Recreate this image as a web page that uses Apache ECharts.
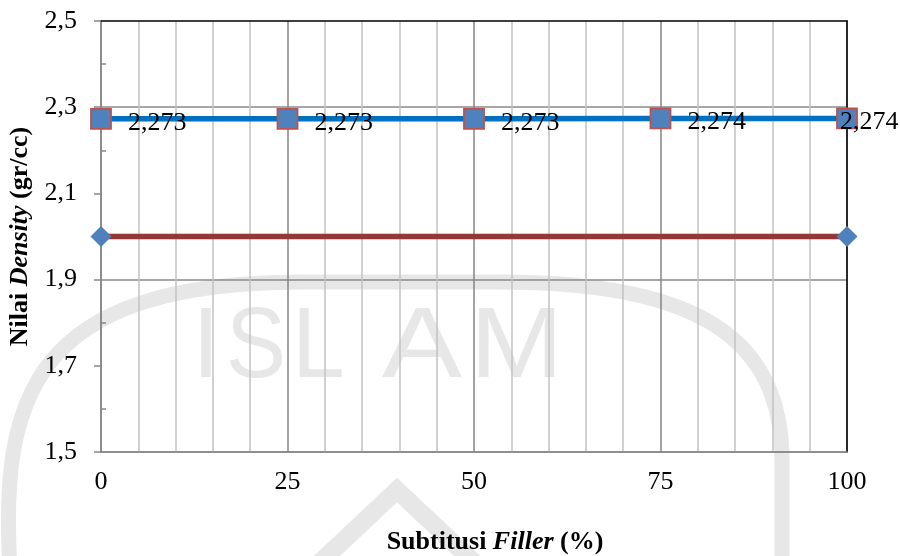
<!DOCTYPE html>
<html>
<head>
<meta charset="utf-8">
<script src="https://cdn.jsdelivr.net/npm/echarts@6/dist/echarts.min.js"></script>
<style>
  html, body { margin: 0; padding: 0; background: #ffffff; }
  #chart { width: 900px; height: 556px; }
</style>
</head>
<body>
<div id="chart"></div>
<script>
// Filler substitution levels (%) and measured density values (gr/cc)
const fillerPct = [0, 25, 50, 75, 100];
const densityValues = [2.273, 2.273, 2.273, 2.274, 2.274];

// Specification limit line (gr/cc) drawn between the two ends of the axis
const limitX = [0, 100];
const limitValues = [2.0, 2.0];

// Y-axis labelled ticks and the unlabelled inner ticks between them
const yMajorTicks = [1.5, 1.7, 1.9, 2.1, 2.3, 2.5];
const yMinorTicks = [1.6, 1.8, 2.0, 2.2, 2.4];

const SERIF = '"Liberation Serif", "Times New Roman", serif';
const comma = (v, d) => v.toFixed(d).replace('.', ',');

const chart = echarts.init(document.getElementById('chart'), null, { renderer: 'canvas' });

// Faint university-logo watermark behind the plot
const wmColor = '#e7e7e7';
const wmFont = '100px "Liberation Sans", Arial, sans-serif';
const wmLetters = [
  { t: 'I', x: 192, sx: 1 },
  { t: 'S', x: 226, sx: 0.9 },
  { t: 'L', x: 292, sx: 0.95 },
  { t: 'A', x: 382, sx: 1.2 },
  { t: 'M', x: 470, sx: 1.12 }
];
const wmStroke = { fill: null, stroke: wmColor, lineWidth: 15 };
const watermark = [
  {
    type: 'bezierCurve', z: -10, silent: true,
    shape: { x1: 10, y1: 570, cpx1: 0, cpy1: 400, cpx2: 30, cpy2: 283, x2: 300, y2: 282 },
    style: wmStroke
  },
  {
    type: 'bezierCurve', z: -10, silent: true,
    shape: { x1: 500, y1: 282, cpx1: 700, cpy1: 282, cpx2: 782, cpy2: 340, x2: 782, y2: 460 },
    style: wmStroke
  },
  {
    type: 'polyline', z: -10, silent: true,
    shape: { points: [[299, 282], [501, 282]] },
    style: wmStroke
  },
  {
    type: 'polyline', z: -10, silent: true,
    shape: { points: [[782, 459], [782, 570]] },
    style: wmStroke
  },
  {
    type: 'polyline', z: -10, silent: true,
    shape: { points: [[312, 570], [397, 490], [482, 570]] },
    style: { fill: null, stroke: wmColor, lineWidth: 18 }
  }
].concat(wmLetters.map(l => ({
  type: 'text', z: -10, silent: true,
  x: l.x, y: 299, scaleX: l.sx,
  style: { text: l.t, fill: wmColor, font: wmFont }
})));

const titleRich = {
  b: { fontFamily: SERIF, fontWeight: 'bold', fontSize: 26, color: '#000' },
  bi: { fontFamily: SERIF, fontWeight: 'bold', fontStyle: 'italic', fontSize: 26, color: '#000' }
};

const option = {
  backgroundColor: '#ffffff',
  animation: false,
  graphic: { elements: watermark },
  grid: {
    left: 101, right: 53, top: 21, bottom: 104,
    containLabel: false, outerBoundsMode: 'none'
  },
  xAxis: [
    {
      type: 'value', position: 'bottom',
      min: 0, max: 100, interval: 25,
      name: '{b|Subtitusi }{bi|Filler}{b| (%)}',
      nameLocation: 'middle', nameGap: 77,
      // title sits a little right of the plot centre
      nameTextStyle: { rich: titleRich, padding: [0, 0, 0, 42] },
      axisLine: { show: true, onZero: false, lineStyle: { color: '#868686', width: 1.5 } },
      axisTick: { show: false },
      minorTick: { show: false, splitNumber: 5 },
      axisLabel: { fontFamily: SERIF, fontSize: 26, color: '#000', margin: 17 },
      splitLine: { show: true, lineStyle: { color: '#848484', width: 1.5 } },
      minorSplitLine: { show: true, lineStyle: { color: '#c2c2c2', width: 1.5 } }
    },
    {
      type: 'value', position: 'top',
      min: 0, max: 100, interval: 25,
      axisLine: { show: true, onZero: false, lineStyle: { color: '#000', width: 1.5 } },
      axisTick: { show: false }, axisLabel: { show: false }, splitLine: { show: false }
    }
  ],
  yAxis: [
    {
      type: 'value', position: 'left',
      min: 1.5, max: 2.5, interval: 0.1,
      name: '{b|Nilai }{bi|Density}{b| (gr/cc)}',
      nameLocation: 'middle', nameGap: 65, nameRotate: 90,
      nameTextStyle: { rich: titleRich },
      axisLine: { show: true, onZero: false, lineStyle: { color: '#868686', width: 1.5 } },
      axisTick: {
        show: true, inside: false, length: 7, customValues: yMajorTicks,
        lineStyle: { color: '#868686', width: 1.5 }
      },
      axisLabel: {
        customValues: yMajorTicks,
        fontFamily: SERIF, fontSize: 26, color: '#000', margin: 24,
        formatter: v => comma(v, 1)
      },
      // grid lines only on the labelled (every second) tick
      splitLine: { show: true, lineStyle: { color: ['#8a8a8a', 'rgba(0,0,0,0)'], width: 1.5 } }
    },
    {
      type: 'value', position: 'left',
      min: 1.5, max: 2.5, interval: 0.1,
      axisLine: { show: false },
      axisTick: {
        show: true, inside: true, length: 5, customValues: yMinorTicks,
        lineStyle: { color: '#868686', width: 1.5 }
      },
      axisLabel: { show: false }, splitLine: { show: false }
    },
    {
      type: 'value', position: 'right',
      min: 1.5, max: 2.5, interval: 0.1,
      axisLine: { show: true, onZero: false, lineStyle: { color: '#000', width: 1.5 } },
      axisTick: { show: false }, axisLabel: { show: false }, splitLine: { show: false }
    }
  ],
  series: [
    {
      name: 'Batas',
      type: 'line',
      xAxisIndex: 0, yAxisIndex: 0,
      data: limitX.map((x, i) => [x, limitValues[i]]),
      symbol: 'diamond', symbolSize: 21,
      lineStyle: { color: '#953735', width: 5.5 },
      itemStyle: { color: '#4f81bd', borderWidth: 0 },
      z: 3
    },
    {
      name: 'Density',
      type: 'line',
      xAxisIndex: 0, yAxisIndex: 0,
      data: fillerPct.map((x, i) => {
        const item = { value: [x, densityValues[i]] };
        // the last label is pulled back so it stays inside the chart
        if (i === fillerPct.length - 1) item.label = { offset: [-34, 4] };
        return item;
      }),
      symbol: 'rect', symbolSize: 20,
      lineStyle: { color: '#0070c0', width: 5.5 },
      itemStyle: { color: '#4f81bd', borderColor: '#c0504d', borderWidth: 1.8 },
      label: {
        show: true, position: 'right', distance: 16, offset: [0, 4],
        fontFamily: SERIF, fontSize: 26, color: '#000',
        formatter: p => comma(p.value[1], 3)
      },
      z: 4
    }
  ]
};

chart.setOption(option);
</script>
</body>
</html>
